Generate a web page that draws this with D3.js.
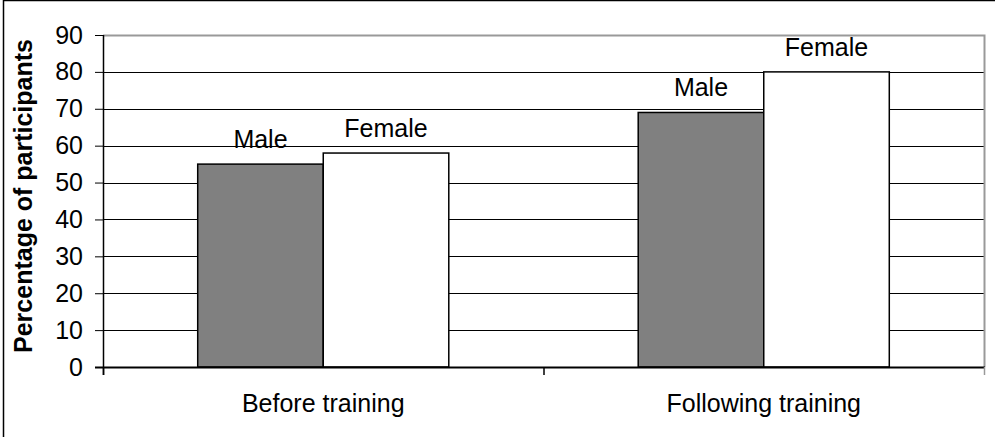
<!DOCTYPE html>
<html>
<head>
<meta charset="utf-8">
<script src="https://cdn.jsdelivr.net/npm/d3@7/dist/d3.min.js"></script>
<style>
  html, body { margin: 0; padding: 0; background: #fff; }
  svg { display: block; font-family: "Liberation Sans", Arial, sans-serif; }
</style>
</head>
<body>
<svg id="chart" width="995" height="437"></svg>
<script>
const categories = ["Before training", "Following training"];
const seriesNames = ["Male", "Female"];
const maleValues = [55, 69];
const femaleValues = [58, 80];
const yTickValues = [0, 10, 20, 30, 40, 50, 60, 70, 80, 90];
const yTitle = "Percentage of participants";

const seriesValues = [maleValues, femaleValues];
const seriesFill = ["#808080", "#ffffff"];

const W = 995, H = 437;
const plot = { left: 103, right: 984, top: 35, bottom: 367 };
const groupFraction = 0.57;
const FS = 25;

const svg = d3.select("#chart");

// outer frame
svg.append("rect")
  .attr("x", 3.5).attr("y", 0.5)
  .attr("width", W + 10).attr("height", H + 10)
  .attr("fill", "none").attr("stroke", "#000").attr("stroke-width", 1.5);

const x0 = d3.scaleBand().domain(categories).range([plot.left, plot.right]).padding(0);
const y = d3.scaleLinear().domain([0, 90]).range([plot.bottom, plot.top]);

const groupW = x0.bandwidth() * groupFraction;
const x1 = d3.scaleBand().domain(seriesNames).range([0, groupW]).padding(0);

// gridlines
svg.append("g").selectAll("line")
  .data(yTickValues.filter(v => v > 0 && v < 90))
  .join("line")
  .attr("x1", plot.left).attr("x2", plot.right)
  .attr("y1", d => Math.round(y(d)) + 0.5).attr("y2", d => Math.round(y(d)) + 0.5)
  .attr("stroke", "#000").attr("stroke-width", 1);

// plot border (top & right, gray)
svg.append("path")
  .attr("d", `M${plot.left},${plot.top + 0.5}H${plot.right + 0.5}V${plot.bottom}`)
  .attr("fill", "none").attr("stroke", "#999").attr("stroke-width", 2);

// bars
const rows = [];
categories.forEach((c, ci) => {
  seriesNames.forEach((s, si) => {
    rows.push({ cat: c, ser: s, si, value: seriesValues[si][ci] });
  });
});

const groupOffset = (x0.bandwidth() - groupW) / 2;

svg.append("g").selectAll("rect")
  .data(rows)
  .join("rect")
  .attr("x", d => x0(d.cat) + groupOffset + x1(d.ser))
  .attr("y", d => y(d.value))
  .attr("width", x1.bandwidth())
  .attr("height", d => y(0) - y(d.value))
  .attr("fill", d => seriesFill[d.si])
  .attr("stroke", "#000").attr("stroke-width", 1.5);

// bar labels
svg.append("g").selectAll("text")
  .data(rows)
  .join("text")
  .attr("x", d => x0(d.cat) + groupOffset + x1(d.ser) + x1.bandwidth() / 2)
  .attr("y", d => y(d.value) - 16)
  .attr("text-anchor", "middle")
  .attr("font-size", FS)
  .attr("fill", "#000")
  .text(d => d.ser);

// y axis
const yAxis = d3.axisLeft(y).tickValues(yTickValues).tickSize(8).tickPadding(12);
const gy = svg.append("g").attr("transform", `translate(${plot.left},0)`).call(yAxis);
gy.select(".domain").remove();
gy.selectAll(".tick line").attr("stroke", "#000").attr("stroke-width", 1);
gy.selectAll(".tick text").attr("font-size", FS).attr("fill", "#000")
  .attr("font-family", "'Liberation Sans', Arial, sans-serif");
svg.append("line")
  .attr("x1", plot.left + 0.5).attr("x2", plot.left + 0.5)
  .attr("y1", plot.top).attr("y2", plot.bottom + 8)
  .attr("stroke", "#000").attr("stroke-width", 1.5);

// x axis
svg.append("line")
  .attr("x1", plot.left - 8).attr("x2", plot.right + 1)
  .attr("y1", plot.bottom + 0.5).attr("y2", plot.bottom + 0.5)
  .attr("stroke", "#000").attr("stroke-width", 2);
const boundaries = categories.map(c => x0(c)).concat([x0(categories[categories.length - 1]) + x0.bandwidth()]);
svg.append("g").selectAll("line")
  .data(boundaries)
  .join("line")
  .attr("x1", d => d + 0.5).attr("x2", d => d + 0.5)
  .attr("y1", plot.bottom).attr("y2", plot.bottom + 8)
  .attr("stroke", (d, i) => i === boundaries.length - 1 ? "#999" : "#000")
  .attr("stroke-width", 1.5);

svg.append("g").selectAll("text")
  .data(categories)
  .join("text")
  .attr("x", d => x0(d) + x0.bandwidth() / 2)
  .attr("y", 412)
  .attr("text-anchor", "middle")
  .attr("font-size", FS)
  .attr("fill", "#000")
  .text(d => d);

// y title
svg.append("text")
  .attr("transform", `translate(32,196) rotate(-90)`)
  .attr("text-anchor", "middle")
  .attr("font-size", 25)
  .attr("font-weight", "bold")
  .attr("fill", "#000")
  .text(yTitle);
</script>
</body>
</html>
